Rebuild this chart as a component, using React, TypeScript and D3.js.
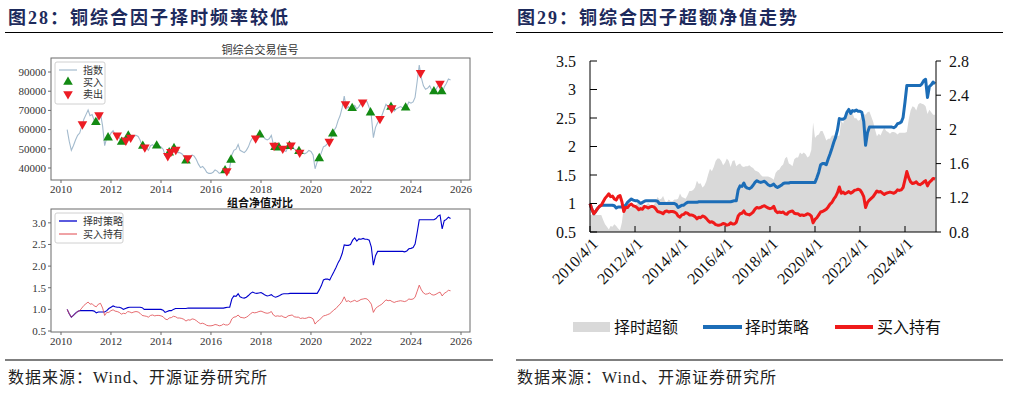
import React from "react";
import * as d3 from "d3";

// monthly points, first one is April 2010
const startMonth = "2010-04-01";

const strategyNav = [
  1.0, 0.9, 0.82, 0.86, 0.91, 0.95, 0.97, 0.97, 0.97,
  0.97, 0.97, 0.97, 0.97, 0.96, 0.92, 0.94, 0.94, 0.94, 0.94, 0.97, 1.02,
  1.05, 1.08, 1.06, 1.05, 1.05, 1.03, 1.0, 1.02, 1.04, 1.05, 1.05, 1.05,
  1.05, 1.05, 1.05, 1.04, 1.0, 1.0, 1.0, 1.0, 1.0, 1.0, 1.0, 1.0,
  1.0, 0.98, 0.93, 0.95, 0.97, 0.97, 1.0, 1.02, 1.02, 1.02, 1.02, 1.02,
  1.02, 1.03, 1.03, 1.03, 1.03, 1.03, 1.03, 1.03, 1.03, 1.03, 1.03, 1.03,
  1.03, 1.03, 1.03, 1.03, 1.03, 1.03, 1.03, 1.04, 1.05, 1.05, 1.24, 1.31,
  1.3, 1.36, 1.29, 1.27, 1.26, 1.28, 1.32, 1.37, 1.4, 1.38, 1.37, 1.38,
  1.39, 1.36, 1.33, 1.31, 1.32, 1.34, 1.3, 1.28, 1.3, 1.32, 1.35, 1.36,
  1.36, 1.36, 1.37, 1.37, 1.37, 1.37, 1.37, 1.37, 1.37, 1.37, 1.37, 1.37,
  1.37, 1.37, 1.37, 1.37, 1.45, 1.55, 1.68, 1.7, 1.7, 1.68, 1.78, 1.87,
  1.97, 2.08, 2.16, 2.29, 2.49, 2.48, 2.48, 2.5, 2.6, 2.65, 2.58, 2.63,
  2.62, 2.64, 2.62, 2.62, 2.6, 2.44, 2.02, 2.24, 2.34, 2.34, 2.34, 2.34,
  2.34, 2.34, 2.34, 2.34, 2.34, 2.34, 2.34, 2.34, 2.34, 2.33, 2.35, 2.4,
  2.41, 2.43, 2.51, 2.78, 3.07, 3.07, 3.07, 3.07, 3.07, 3.07, 3.07, 3.07,
  3.1, 3.16, 3.18, 2.86, 3.05, 3.08, 3.13, 3.1,
];

const buyHoldNav = [
  1.0, 0.9, 0.82, 0.86, 0.91, 0.95, 0.97, 1.03, 1.09,
  1.13, 1.17, 1.12, 1.13, 1.08, 1.06, 1.12, 1.14, 1.03, 0.86, 0.93, 0.93,
  0.97, 0.99, 0.96, 0.95, 0.93, 0.89, 0.91, 0.9, 0.95, 0.94, 0.92, 0.94,
  0.95, 0.94, 0.91, 0.86, 0.85, 0.84, 0.82, 0.86, 0.87, 0.85, 0.86, 0.86,
  0.85, 0.83, 0.78, 0.76, 0.8, 0.81, 0.84, 0.83, 0.8, 0.8, 0.79, 0.77,
  0.73, 0.76, 0.75, 0.78, 0.77, 0.74, 0.7, 0.67, 0.68, 0.66, 0.63, 0.62,
  0.62, 0.63, 0.65, 0.64, 0.62, 0.63, 0.66, 0.64, 0.64, 0.67, 0.78, 0.82,
  0.83, 0.87, 0.82, 0.81, 0.8, 0.82, 0.85, 0.9, 0.93, 0.92, 0.93, 0.95,
  0.96, 0.94, 0.92, 0.91, 0.92, 0.95, 0.87, 0.84, 0.85, 0.84, 0.85, 0.82,
  0.81, 0.85, 0.86, 0.87, 0.83, 0.82, 0.82, 0.79, 0.8, 0.79, 0.8, 0.82,
  0.81, 0.78, 0.66, 0.72, 0.75, 0.8, 0.85, 0.86, 0.88, 0.9, 0.94, 0.99,
  1.02, 1.08, 1.12, 1.19, 1.29, 1.18, 1.2, 1.17, 1.19, 1.21, 1.18, 1.2,
  1.23, 1.24, 1.25, 1.24, 1.19, 1.12, 0.93, 1.02, 1.06, 1.09, 1.12, 1.17,
  1.22, 1.2, 1.21, 1.18, 1.16, 1.18, 1.19, 1.2, 1.19, 1.18, 1.2, 1.24,
  1.23, 1.24, 1.28, 1.42, 1.56, 1.45, 1.38, 1.35, 1.36, 1.38, 1.34, 1.33,
  1.35, 1.38, 1.4, 1.31, 1.37, 1.4, 1.44, 1.43,
];

const excessNav = [
  1.0, 1.0, 1.0, 1.0, 1.0, 1.0, 1.0, 0.94, 0.89,
  0.86, 0.83, 0.87, 0.86, 0.89, 0.87, 0.84, 0.82, 0.91, 1.09, 1.04, 1.1,
  1.08, 1.09, 1.1, 1.11, 1.13, 1.16, 1.1, 1.13, 1.09, 1.12, 1.14, 1.12,
  1.11, 1.12, 1.15, 1.21, 1.18, 1.19, 1.22, 1.16, 1.15, 1.18, 1.16, 1.16,
  1.18, 1.18, 1.19, 1.25, 1.21, 1.2, 1.19, 1.23, 1.28, 1.28, 1.29, 1.32,
  1.4, 1.36, 1.37, 1.32, 1.34, 1.39, 1.47, 1.54, 1.51, 1.56, 1.63, 1.66,
  1.66, 1.63, 1.58, 1.61, 1.66, 1.63, 1.56, 1.63, 1.64, 1.57, 1.59, 1.6,
  1.57, 1.56, 1.57, 1.57, 1.58, 1.56, 1.55, 1.52, 1.51, 1.5, 1.47, 1.45,
  1.45, 1.45, 1.45, 1.44, 1.43, 1.41, 1.49, 1.52, 1.53, 1.57, 1.59, 1.66,
  1.68, 1.6, 1.59, 1.57, 1.65, 1.67, 1.67, 1.73, 1.71, 1.73, 1.71, 1.67,
  1.69, 1.76, 2.08, 1.9, 1.93, 1.94, 1.98, 1.98, 1.93, 1.87, 1.89, 1.89,
  1.93, 1.93, 1.93, 1.92, 1.93, 2.1, 2.07, 2.14, 2.18, 2.19, 2.19, 2.19,
  2.13, 2.13, 2.1, 2.11, 2.18, 2.18, 2.17, 2.2, 2.21, 2.15, 2.09, 2.0,
  1.92, 1.95, 1.93, 1.98, 2.02, 1.98, 1.97, 1.95, 1.97, 1.97, 1.96, 1.94,
  1.96, 1.96, 1.96, 1.96, 1.97, 2.12, 2.22, 2.27, 2.26, 2.22, 2.29, 2.31,
  2.3, 2.29, 2.27, 2.18, 2.23, 2.2, 2.17, 2.17,
];

const copperIndex = [
  60000, 54000, 49200, 51600, 54600, 57000, 58200, 61800, 65400,
  67800, 70200, 67200, 67800, 64800, 63600, 67200, 68400, 61800, 51600, 55800, 55800,
  58200, 59400, 57600, 57000, 55800, 53400, 54600, 54000, 57000, 56400, 55200, 56400,
  57000, 56400, 54600, 51600, 51000, 50400, 49200, 51600, 52200, 51000, 51600, 51600,
  51000, 49800, 46800, 45600, 48000, 48600, 50400, 49800, 48000, 48000, 47400, 46200,
  43800, 45600, 45000, 46800, 46200, 44400, 42000, 40200, 40800, 39600, 37800, 37200,
  37200, 37800, 39000, 38400, 37200, 37800, 39600, 38400, 38400, 40200, 46800, 49200,
  49800, 52200, 49200, 48600, 48000, 49200, 51000, 54000, 55800, 55200, 55800, 57000,
  57600, 56400, 55200, 54600, 55200, 57000, 52200, 50400, 51000, 50400, 51000, 49200,
  48600, 51000, 51600, 52200, 49800, 49200, 49200, 47400, 48000, 47400, 48000, 49200,
  48600, 46800, 39600, 43200, 45000, 48000, 51000, 51600, 52800, 54000, 56400, 59400,
  61200, 64800, 67200, 71400, 77400, 70800, 72000, 70200, 71400, 72600, 70800, 72000,
  73800, 74400, 75000, 74400, 71400, 67200, 55800, 61200, 63600, 65400, 67200, 70200,
  73200, 72000, 72600, 70800, 69600, 70800, 71400, 72000, 71400, 70800, 72000, 74400,
  73800, 74400, 76800, 85200, 93600, 87000, 82800, 81000, 81600, 82800, 80400, 79800,
  81000, 82800, 84000, 78600, 82200, 84000, 86400, 85800,
];

const buyDates = [
  "2011-05-25", "2011-11-20", "2012-06-05", "2012-09-10", "2013-04-10", "2013-10-30",
  "2014-05-01", "2014-07-10", "2015-01-01", "2016-07-25", "2016-10-20", "2017-12-15",
  "2018-07-25", "2018-09-20", "2019-02-20", "2019-07-10", "2020-05-01", "2020-11-15",
  "2021-08-25", "2022-05-20", "2023-03-15", "2023-10-15", "2024-12-01", "2025-03-25",
];
const sellDates = [
  "2010-11-10", "2011-07-10", "2012-04-01", "2012-08-05", "2012-10-15", "2013-05-10",
  "2014-04-10", "2014-05-25", "2014-08-05", "2015-01-25", "2016-08-20", "2017-10-15",
  "2018-07-10", "2018-11-15", "2019-03-15", "2019-07-20", "2020-09-25", "2021-05-20",
  "2022-01-25", "2022-10-05", "2023-03-25", "2024-05-20", "2025-02-28",
];

const yearTicks = [2010, 2012, 2014, 2016, 2018, 2020, 2022, 2024, 2026];
const indexTicks = [40000, 50000, 60000, 70000, 80000, 90000];
const navTicks = [0.5, 1.0, 1.5, 2.0, 2.5, 3.0];
const dateTicks = [
  "2010-04-01", "2012-04-01", "2014-04-01", "2016-04-01",
  "2018-04-01", "2020-04-01", "2022-04-01", "2024-04-01",
];
const leftAxisTicks = [0.5, 1, 1.5, 2, 2.5, 3, 3.5];
const rightAxisTicks = [0.8, 1.2, 1.6, 2, 2.4, 2.8];

const serif = '"Liberation Serif", "Times New Roman", "Noto Sans CJK SC", serif';
const titleColor = "#1d2a5c";

export default function App() {
  const parse = d3.timeParse("%Y-%m-%d");
  const start = parse(startMonth)!;
  const dates = d3.timeMonth.range(start, d3.timeMonth.offset(start, strategyNav.length));
  const last = dates[dates.length - 1];

  // ---- left panel (matplotlib look)
  const xL = d3.scaleTime().domain([new Date(2010, 0, 1), new Date(2026, 0, 1)]).range([61, 461]);
  const yIdx = d3.scaleLinear().domain([33750, 97300]).range([180, 58]);
  const yNav = d3.scaleLinear().domain([0.477, 3.32]).range([332, 209]);

  const idxLine = d3.line<number>().x((_, i) => xL(dates[i])).y((v) => yIdx(v));
  const stLineL = d3.line<number>().x((_, i) => xL(dates[i])).y((v) => yNav(v));

  const idxAt = (d: Date) => {
    const i = d3.bisectRight(dates, d);
    if (i <= 0) return copperIndex[0];
    if (i >= dates.length) return copperIndex[copperIndex.length - 1];
    const t = (+d - +dates[i - 1]) / (+dates[i] - +dates[i - 1]);
    return copperIndex[i - 1] * (1 - t) + copperIndex[i] * t;
  };
  const tri = d3.symbol().type(d3.symbolTriangle).size(40)()!;

  // ---- right panel (excel look)
  const xR = d3.scaleTime().domain([start, last]).range([590, 935]);
  const yLeft = d3.scaleLinear().domain([0.5, 3.5]).range([232, 61]);
  const yRight = d3.scaleLinear().domain([0.8, 2.8]).range([232, 61]);
  const excessArea = d3.area<number>().x((_, i) => xR(dates[i])).y0(yRight(0.8)).y1((v) => yRight(v));
  const navLineR = d3.line<number>().x((_, i) => xR(dates[i])).y((v) => yLeft(v));
  const fmtDate = (d: Date) => `${d.getFullYear()}/${d.getMonth() + 1}/${d.getDate()}`;

  const frame = "#6b6b6b";
  const small = { fontFamily: serif, fontSize: 11, fill: "#333" };

  return (
    <svg width={1016} height={393} style={{ position: "absolute", left: 0, top: 0, background: "#fff" }} fontFamily={serif}>
      {/* titles */}
      <text x={8} y={18} dy="0.35em" fontSize={18} fontWeight="bold" fill={titleColor} letterSpacing={2}>图28：铜综合因子择时频率较低</text>
      <text x={517} y={18} dy="0.35em" fontSize={18} fontWeight="bold" fill={titleColor} letterSpacing={2}>图29：铜综合因子超额净值走势</text>
      <line x1={5} x2={493} y1={32.5} y2={32.5} stroke="#000" strokeWidth={1.2} />
      <line x1={516} x2={1003} y1={32.5} y2={32.5} stroke="#000" strokeWidth={1.2} />

      {/* ---- left top: signals */}
      <text x={260} y={50} textAnchor="middle" dy="0.35em" {...small}>铜综合交易信号</text>
      <rect x={51} y={58} width={419} height={122} fill="none" stroke={frame} />
      {indexTicks.map((t) => (
        <g key={t}>
          <line x1={48} x2={51} y1={yIdx(t)} y2={yIdx(t)} stroke={frame} />
          <text x={46} y={yIdx(t)} dy="0.35em" textAnchor="end" {...small}>{t}</text>
        </g>
      ))}
      {yearTicks.map((y) => (
        <g key={y}>
          <line x1={xL(new Date(y, 0, 1))} x2={xL(new Date(y, 0, 1))} y1={180} y2={183} stroke={frame} />
          <text x={xL(new Date(y, 0, 1))} y={189} dy="0.35em" textAnchor="middle" {...small}>{y}</text>
        </g>
      ))}
      <path d={idxLine(copperIndex)!} fill="none" stroke="#a3bacd" strokeWidth={1.1} />
      {buyDates.map((s) => {
        const d = parse(s)!;
        return <path key={s} d={tri} transform={`translate(${xL(d)},${yIdx(idxAt(d))})`} fill="#138a13" />;
      })}
      {sellDates.map((s) => {
        const d = parse(s)!;
        return <path key={s} d={tri} transform={`translate(${xL(d)},${yIdx(idxAt(d))}) rotate(180)`} fill="#ec1c24" />;
      })}
      <rect x={55} y={62} width={50} height={42} fill="#fff" fillOpacity={0.85} stroke="#d0d0d0" rx={2} />
      <line x1={59} x2={77} y1={70} y2={70} stroke="#a3bacd" strokeWidth={1.2} />
      <text x={83} y={70} dy="0.35em" {...small} fontSize={10}>指数</text>
      <path d={tri} transform="translate(68,82)" fill="#138a13" />
      <text x={83} y={82} dy="0.35em" {...small} fontSize={10}>买入</text>
      <path d={tri} transform="translate(68,94) rotate(180)" fill="#ec1c24" />
      <text x={83} y={94} dy="0.35em" {...small} fontSize={10}>卖出</text>

      {/* ---- left bottom: nav */}
      <text x={260} y={203} textAnchor="middle" dy="0.35em" {...small} fontWeight="bold" fill="#111">组合净值对比</text>
      <rect x={51} y={209} width={419} height={123} fill="none" stroke={frame} />
      {navTicks.map((t) => (
        <g key={t}>
          <line x1={48} x2={51} y1={yNav(t)} y2={yNav(t)} stroke={frame} />
          <text x={46} y={yNav(t)} dy="0.35em" textAnchor="end" {...small}>{t.toFixed(1)}</text>
        </g>
      ))}
      {yearTicks.map((y) => (
        <g key={y}>
          <line x1={xL(new Date(y, 0, 1))} x2={xL(new Date(y, 0, 1))} y1={332} y2={335} stroke={frame} />
          <text x={xL(new Date(y, 0, 1))} y={341} dy="0.35em" textAnchor="middle" {...small}>{y}</text>
        </g>
      ))}
      <path d={stLineL(strategyNav)!} fill="none" stroke="#0000cc" strokeWidth={1.1} />
      <path d={stLineL(buyHoldNav)!} fill="none" stroke="#e0474c" strokeWidth={0.8} />
      <rect x={55} y={213} width={68} height={30} fill="#fff" fillOpacity={0.85} stroke="#d0d0d0" rx={2} />
      <line x1={59} x2={77} y1={221} y2={221} stroke="#0000cc" strokeWidth={1.3} />
      <text x={83} y={221} dy="0.35em" {...small} fontSize={10}>择时策略</text>
      <line x1={59} x2={77} y1={234} y2={234} stroke="#e0474c" strokeWidth={1} />
      <text x={83} y={234} dy="0.35em" {...small} fontSize={10}>买入持有</text>

      {/* ---- right chart */}
      <path d={excessArea(excessNav)!} fill="#d9d9d9" />
      <path d={navLineR(strategyNav)!} fill="none" stroke="#1c6db7" strokeWidth={3} strokeLinejoin="round" />
      <path d={navLineR(buyHoldNav)!} fill="none" stroke="#ef1a1a" strokeWidth={3} strokeLinejoin="round" />
      <line x1={590} x2={590} y1={61} y2={232} stroke="#000" />
      <line x1={936} x2={936} y1={61} y2={232} stroke="#000" />
      <line x1={590} x2={936} y1={232} y2={232} stroke="#000" />
      {leftAxisTicks.map((t) => (
        <g key={t}>
          <line x1={590} x2={597} y1={yLeft(t)} y2={yLeft(t)} stroke="#000" />
          <text x={576} y={yLeft(t)} dy="0.35em" textAnchor="end" fontSize={16} fill="#111">{t}</text>
        </g>
      ))}
      {rightAxisTicks.map((t) => (
        <g key={t}>
          <line x1={936} x2={941} y1={yRight(t)} y2={yRight(t)} stroke="#000" />
          <text x={949} y={yRight(t)} dy="0.35em" fontSize={16} fill="#111">{t}</text>
        </g>
      ))}
      {dateTicks.map((s) => {
        const d = parse(s)!;
        const x = xR(d);
        return (
          <g key={s}>
            <line x1={x} x2={x} y1={232} y2={226} stroke="#000" />
            <text transform={`translate(${x + 5},${241}) rotate(-45)`} textAnchor="end" dy="0.35em" fontSize={16} fill="#111">{fmtDate(d)}</text>
          </g>
        );
      })}
      <rect x={573} y={322} width={37} height={10} fill="#d9d9d9" />
      <text x={614} y={327} dy="0.35em" fontSize={16} fill="#111">择时超额</text>
      <line x1={703} x2={742} y1={327} y2={327} stroke="#1c6db7" strokeWidth={4} />
      <text x={745} y={327} dy="0.35em" fontSize={16} fill="#111">择时策略</text>
      <line x1={835} x2={873} y1={327} y2={327} stroke="#ef1a1a" strokeWidth={4} />
      <text x={877} y={327} dy="0.35em" fontSize={16} fill="#111">买入持有</text>

      {/* sources */}
      <line x1={5} x2={493} y1={360} y2={360} stroke="#000" strokeWidth={1.2} />
      <line x1={516} x2={1003} y1={360} y2={360} stroke="#000" strokeWidth={1.2} />
      <text x={8} y={377} dy="0.35em" fontSize={16} fill="#222" letterSpacing={1}>数据来源：Wind、开源证券研究所</text>
      <text x={517} y={377} dy="0.35em" fontSize={16} fill="#222" letterSpacing={1}>数据来源：Wind、开源证券研究所</text>
    </svg>
  );
}
